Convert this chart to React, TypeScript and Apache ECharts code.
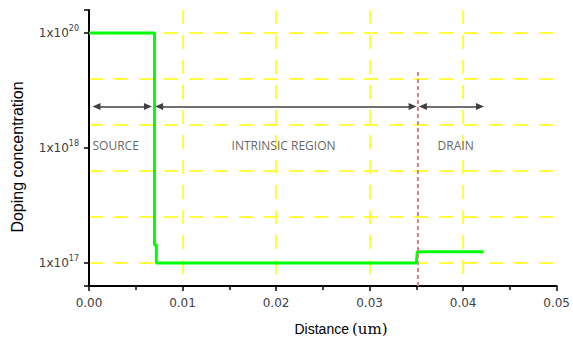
import React, { useEffect, useRef } from 'react';
import * as echarts from 'echarts';

// Doping profile (x in um, y in chart level units: 1 = 1x10^17, 6 = 1x10^18, 11 = 1x10^20)
const distanceUm = [0, 0.007, 0.007, 0.0072, 0.0072, 0.035, 0.0351, 0.0422];
const dopingLevel = [11, 11, 1.78, 1.78, 1, 1, 1.49, 1.49];

// Y axis labels
const yLabelValues = [1, 6, 11];
const yLabelExponents = ['17', '18', '20'];
const yTickValues = [0, 1, 6, 11, 12];
const yGridValues = [1, 3, 5, 7, 9, 11];

// X axis
const xMin = 0;
const xMax = 0.05;
const xStep = 0.01;

// Region annotations
const regionNames = ['SOURCE', 'INTRINSIC REGION', 'DRAIN'];
const regionLabelX = [0.00285, 0.0208, 0.0392];
const regionLabelY = 6.13;
const arrowStart = [0.0008, 0.0075, 0.0357];
const arrowEnd = [0.0063, 0.0346, 0.0418];
const arrowY = 7.8;
const junctionX = 0.0352;
const junctionTop = 9.4;

const labelColor = '#404040';

export default function App() {
  const ref = useRef<HTMLDivElement>(null);
  useEffect(() => {
    const chart = echarts.init(ref.current!, null, { renderer: 'svg' });
    const profile = distanceUm.map((x, i) => [x, dopingLevel[i]]);
    const option: any = {
      animation: false,
      backgroundColor: '#ffffff',
      grid: { left: 89, right: 13, top: 10, bottom: 56, containLabel: false },
      xAxis: {
        type: 'value',
        min: xMin,
        max: xMax,
        interval: xStep,
        axisLine: { show: true, onZero: false, lineStyle: { color: '#000', width: 2 } },
        axisTick: { show: true, length: 5, lineStyle: { color: '#000', width: 1.5 } },
        minorTick: { show: true, splitNumber: 2, length: 4, lineStyle: { color: '#000', width: 1.5 } },
        axisLabel: {
          margin: 11,
          fontSize: 12,
          fontFamily: 'DejaVu Sans',
          color: labelColor,
          formatter: (v: number) => v.toFixed(2),
        },
        splitLine: {
          show: true,
          showMinLine: false,
          showMaxLine: false,
          lineStyle: { color: '#ffff00', width: 1.5, type: [14, 11] },
        },
      },
      yAxis: [
        {
          type: 'value',
          min: 0,
          max: 12,
          position: 'left',
          axisLine: { show: true, onZero: false, lineStyle: { color: '#000', width: 2 } },
          axisTick: { show: true, length: 5, customValues: yTickValues, lineStyle: { color: '#000', width: 1.5 } },
          axisLabel: {
            show: true,
            margin: 10,
            customValues: yLabelValues,
            formatter: (v: number) => {
              const i = yLabelValues.indexOf(Math.round(v));
              return i >= 0 ? `{a|1x10}{b|${yLabelExponents[i]}}` : '';
            },
            rich: {
              a: { fontSize: 12, fontFamily: 'DejaVu Sans', color: labelColor, lineHeight: 18 },
              b: { fontSize: 8, fontFamily: 'DejaVu Sans', color: labelColor, verticalAlign: 'top' },
            },
          },
          splitLine: { show: false },
        },
        {
          type: 'value',
          min: 0,
          max: 12,
          position: 'left',
          axisLine: { show: false },
          axisTick: { show: false, customValues: yGridValues },
          axisLabel: { show: false },
          splitLine: { show: true, lineStyle: { color: '#ffff00', width: 1.5, type: [14, 11] } },
        },
      ],
      graphic: [
        {
          type: 'text',
          x: 17,
          y: 157,
          rotation: Math.PI / 2,
          style: {
            text: 'Doping concentration',
            fontSize: 16,
            fontFamily: 'Liberation Sans',
            fill: '#000',
            align: 'center',
            verticalAlign: 'middle',
          },
        },
        {
          type: 'text',
          x: 341,
          y: 329,
          style: {
            text: '{a|Distance}{b|(um)}',
            align: 'center',
            verticalAlign: 'middle',
            rich: {
              a: { fontSize: 14, fontFamily: 'Liberation Sans', fill: '#000', color: '#000' },
              b: { fontSize: 15, fontFamily: 'DejaVu Serif', fill: '#000', color: '#000', padding: [0, 0, 0, 3] },
            },
          },
        },
      ],
      series: [
        {
          type: 'line',
          name: 'junction',
          data: [],
          yAxisIndex: 0,
          markLine: {
            silent: true,
            symbol: ['none', 'none'],
            label: { show: false },
            lineStyle: { color: '#d98585', width: 2, type: [4, 3] },
            data: [[{ coord: [junctionX, 0] }, { coord: [junctionX, junctionTop] }]],
          },
        },
        {
          type: 'line',
          name: 'profile',
          data: profile,
          yAxisIndex: 0,
          showSymbol: false,
          symbol: 'none',
          lineStyle: { color: '#00ff00', width: 3 },
          z: 3,
        },
        {
          type: 'line',
          name: 'arrows',
          data: [],
          yAxisIndex: 0,
          markLine: {
            silent: true,
            symbol: ['triangle', 'triangle'],
            symbolSize: [7, 8],
            label: { show: false },
            lineStyle: { color: '#404040', width: 1.5, type: 'solid' },
            itemStyle: { color: '#000' },
            data: arrowStart.map((s, i) => [{ coord: [s, arrowY] }, { coord: [arrowEnd[i], arrowY] }]),
          },
        },
        {
          type: 'scatter',
          name: 'regions',
          yAxisIndex: 0,
          symbolSize: 1,
          itemStyle: { color: 'rgba(0,0,0,0)' },
          data: regionNames.map((n, i) => [regionLabelX[i], regionLabelY, n]),
          label: {
            show: true,
            position: 'inside',
            fontSize: 12,
            fontFamily: 'Open Sans',
            color: '#3a3a3a',
            formatter: (p: any) => p.value[2],
          },
        },
      ],
    };
    chart.setOption(option);
    return () => chart.dispose();
  }, []);
  return (
    <div
      ref={ref}
      style={{ position: 'absolute', left: 0, top: 0, width: 573, height: 342, background: '#fff' }}
    />
  );
}
